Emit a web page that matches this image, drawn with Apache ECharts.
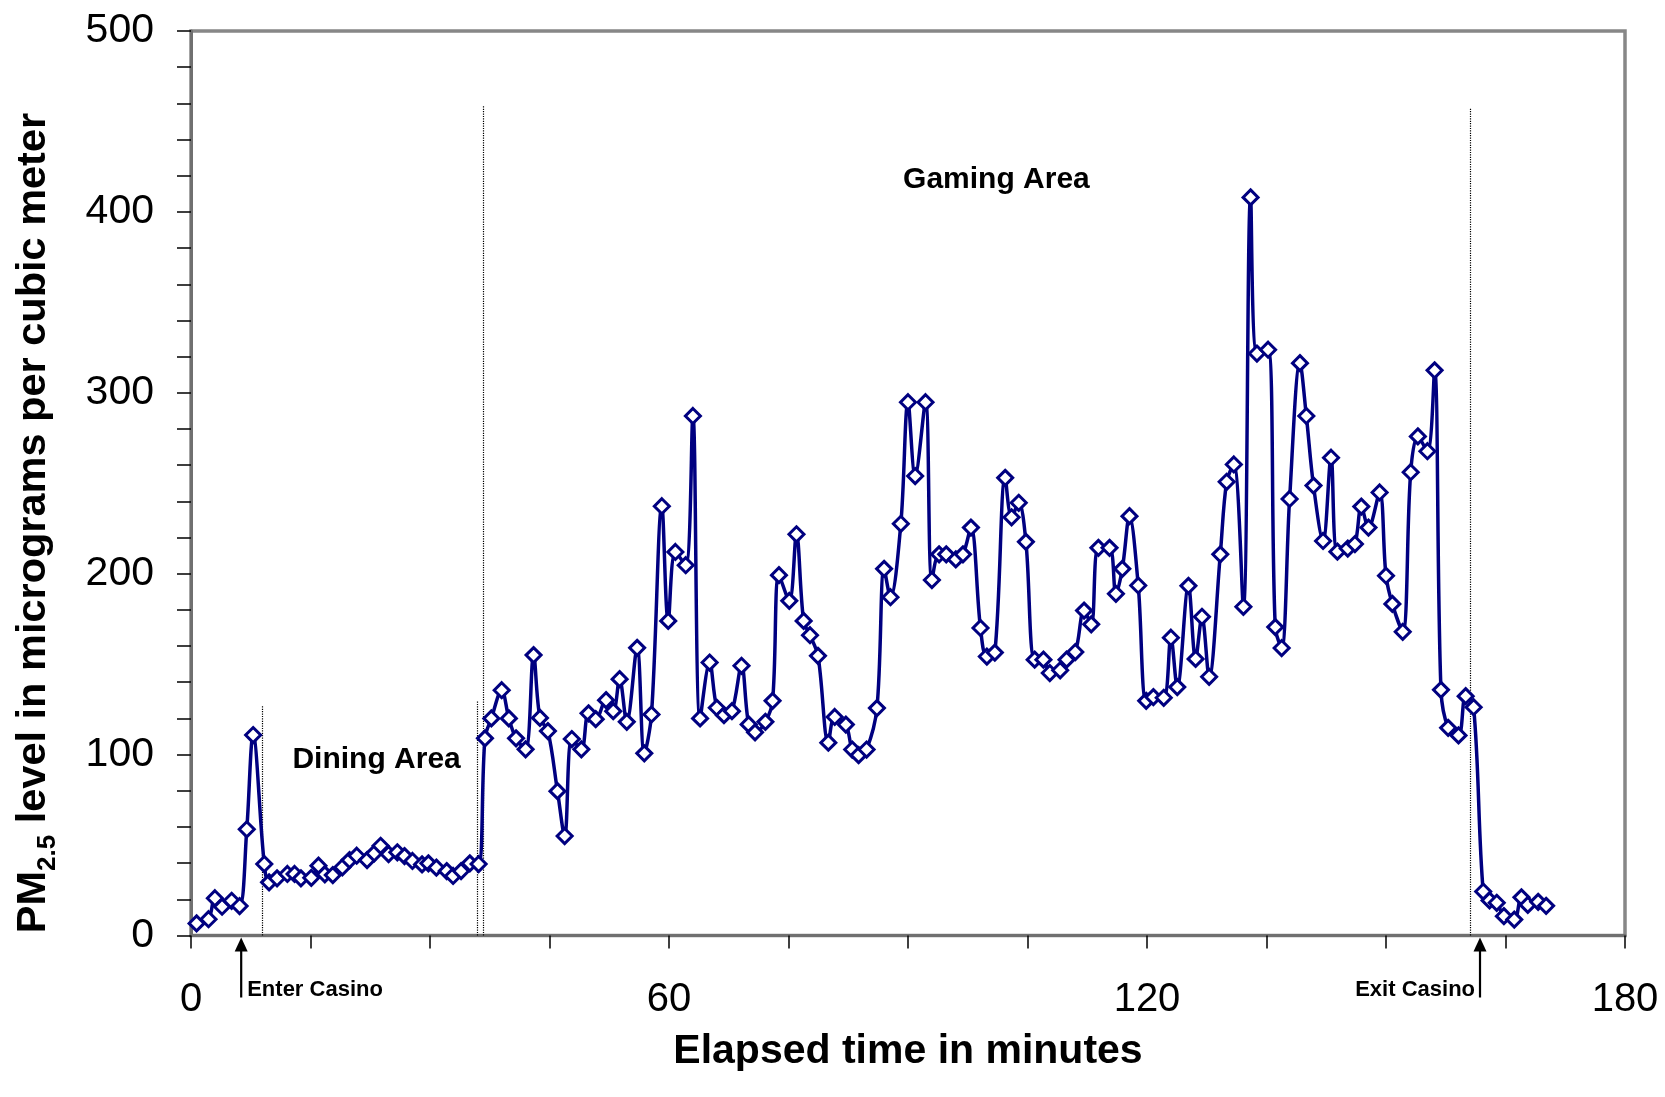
<!DOCTYPE html>
<html>
<head>
<meta charset="utf-8">
<script src="https://cdn.jsdelivr.net/npm/echarts@6/dist/echarts.min.js"></script>
<style>
  html, body { margin: 0; padding: 0; background: #fff; }
  #chart { width: 1665px; height: 1097px; }
</style>
</head>
<body>
<div id="chart"></div>
<script>
// elapsed time (minutes) and PM2.5 (ug/m3)
var times = [
  0.7, 2.2, 3.0, 3.9, 5.1, 6.1, 7.0, 7.8, 9.2, 9.8, 10.8, 12.1, 13.0, 13.8, 15.1, 16.0, 16.8, 17.8, 19.0, 19.9,
  20.8, 22.1, 23.0, 23.8, 24.8, 25.9, 26.8, 27.8, 29.0, 29.8, 30.8, 32.1, 32.9, 33.9, 35.0, 36.1,
  36.9, 37.7, 39.0, 39.9, 40.8, 42.0, 43.0, 43.8, 44.8, 46.0, 46.9, 47.8, 49.0, 49.9, 50.8, 52.1, 53.0, 53.8,
  54.7, 56.0, 56.9, 57.8, 59.1, 59.9, 60.8, 62.1, 63.0, 63.9, 65.1, 66.0, 66.9, 67.9, 69.1, 70.0, 70.8, 72.1,
  73.0, 73.8, 75.1, 76.0, 76.9, 77.7, 78.7,
  80.0, 80.8, 82.2, 83.0, 83.8, 84.8, 86.1, 87.0, 87.8, 89.1, 90.0, 90.9, 92.2, 93.0, 93.9, 94.8, 96.0, 96.9,
  97.9, 99.1, 99.9, 100.9, 102.2, 103.0, 103.9, 104.8, 105.9, 107.0, 107.8, 109.1, 109.9, 111.0, 112.1, 113.0,
  113.9, 115.3, 116.1, 116.9, 117.8, 118.9,
  119.9, 120.8, 122.1, 123.0, 123.8, 125.2, 126.1, 126.9, 127.8, 129.2, 130.0, 130.9, 132.1, 133.0, 133.8,
  135.2, 136.1, 136.9, 137.9, 139.2, 140.0, 140.9, 142.1, 143.1, 143.9, 145.2, 146.1, 146.9, 147.8, 149.2,
  150.0, 150.8, 152.1, 153.1, 154.0,
  155.2, 156.1, 156.9, 157.8, 159.1, 160.0, 161.0, 162.2, 163.0, 163.9, 164.8, 166.1, 167.0, 167.8, 169.1, 170.1
];
var pm25 = [
  6.7, 9.0, 20.6, 15.9, 19.2, 16.3, 58.7, 110.8, 39.5, 29.4, 31.6, 34, 34, 31.6, 31.9, 38.6, 33.8, 33.4, 37.7, 41.7,
  44.1, 41.7, 45.4, 49.6, 45, 46, 43.9, 41.2, 39.3, 39.9, 37.5, 35.6, 32.9, 35.6, 39.9, 39.5,
  109, 120, 135.6, 120, 109, 102.9, 155, 120.3, 113, 79.8, 55, 108.6, 102.9, 122.8, 119.6, 130.1, 124, 141.7,
  118.1, 159, 100.7, 122.2, 237.3, 173.9, 212, 204.7, 287.2, 120, 150.9, 125.9, 121.8, 124, 149.1, 116.7, 112.3, 118.1,
  129.7, 199.2, 185, 221.8, 173.9, 166, 154.6,
  106.6, 120.8, 116.6, 102.8, 99.7, 102.8, 125.7, 202.7, 187, 227.6, 294.8, 254, 294.8, 196.5, 210.7, 210.7, 207.9, 210.7,
  225.5, 170, 154.2, 156.4, 253, 231.2, 239.2, 217.6, 152.5, 152.5, 145.1, 146.6, 152.5, 156.7, 179.6, 172,
  214.3, 214.3, 188.9, 202.7, 231.8, 193.5,
  129.7, 131.8, 131.4, 164.6, 137.3, 193.3, 152.9, 176.2, 143, 210.7, 250.8, 260.4, 181.7, 408, 321.7,
  323.8, 170.5, 158.9, 241.3, 316.4, 287.2, 248.7, 218.1, 264.1, 212.2, 213.9, 216.4, 237.1, 225.5, 244.9,
  198.9, 183.3, 167.9, 256.1, 275.9,
  267.7, 312.4, 135.8, 114.8, 110.6, 132.3, 126.2, 24.3, 19.4, 18.1, 10.7, 8.8, 21.1, 16.9, 18.6, 16.4
];

// dotted separators: time and how high they reach
var dividerTimes = [8.95, 35.9, 36.7, 160.6];
var dividerTops = [127, 130, 459, 457];

// area labels
var areaNames = ['Dining Area', 'Gaming Area'];
var areaTimes = [23.3, 101.1];
var areaLevels = [97, 418];

// enter / exit arrows
var eventNames = ['Enter Casino', 'Exit Casino'];
var eventTimes = [6.3, 161.8];

var FONT = '"Liberation Sans", Arial, sans-serif';
var navy = '#000080';

var seriesData = times.map(function (t, i) { return [t, pm25[i]]; });

var dividerLines = dividerTimes.map(function (t, i) {
    return [{ coord: [t, 0] }, { coord: [t, dividerTops[i]] }];
});

var chart = echarts.init(document.getElementById('chart'));

var option = {
    animation: false,
    backgroundColor: '#fff',
    grid: {
        left: 191, top: 31, width: 1434, height: 904.5,
        show: true, borderColor: '#878787', borderWidth: 3.5, backgroundColor: 'transparent'
    },
    xAxis: {
        type: 'value', min: 0, max: 180, interval: 15,
        name: 'Elapsed time in minutes',
        nameLocation: 'middle', nameGap: 96,
        nameTextStyle: { fontFamily: FONT, fontSize: 41, fontWeight: 'bold', color: '#000' },
        axisLine: { show: true, onZero: false, lineStyle: { color: '#707070', width: 3 } },
        axisTick: { show: true, inside: false, length: 13, lineStyle: { color: '#000', width: 1.5 } },
        axisLabel: {
            margin: 44, fontFamily: FONT, fontSize: 40, color: '#000',
            showMinLabel: true, showMaxLabel: true,
            formatter: function (v) { return v % 60 === 0 ? String(v) : ''; }
        },
        splitLine: { show: false }
    },
    yAxis: {
        type: 'value', min: 0, max: 500, interval: 20,
        axisLine: { show: true, onZero: false, lineStyle: { color: '#707070', width: 3 } },
        axisTick: { show: true, inside: false, length: 14, lineStyle: { color: '#000', width: 1.5 } },
        axisLabel: {
            margin: 37, fontFamily: FONT, fontSize: 41, color: '#000',
            showMinLabel: true, showMaxLabel: true,
            formatter: function (v) { return v % 100 === 0 ? String(v) : ''; }
        },
        splitLine: { show: false }
    },
    series: [{
        type: 'line',
        data: seriesData,
        smooth: 0.35,
        showSymbol: true,
        showAllSymbol: true,
        symbol: 'diamond',
        symbolSize: [15, 15],
        lineStyle: { color: navy, width: 3.5 },
        itemStyle: { color: '#fff', borderColor: navy, borderWidth: 3 },
        z: 3,
        markLine: {
            silent: true,
            symbol: ['none', 'none'],
            label: { show: false },
            lineStyle: { color: '#000', type: 'dotted', width: 1.2 },
            data: dividerLines,
            z: 1
        }
    }]
};

chart.setOption(option);

// annotations placed through the chart's own scales
var graphics = [];
var axisY = chart.convertToPixel({ yAxisIndex: 0 }, 0);

areaNames.forEach(function (name, i) {
    var p = chart.convertToPixel({ gridIndex: 0 }, [areaTimes[i], areaLevels[i]]);
    graphics.push({
        type: 'text', x: p[0], y: p[1], z: 10,
        style: { text: name, font: 'bold 30px ' + FONT, fill: '#000', align: 'center', verticalAlign: 'middle' }
    });
});

eventTimes.forEach(function (t, i) {
    var px = chart.convertToPixel({ xAxisIndex: 0 }, t);
    graphics.push({
        type: 'line', z: 10,
        shape: { x1: px, y1: axisY + 12, x2: px, y2: axisY + 62 },
        style: { stroke: '#000', lineWidth: 2.2 }
    });
    graphics.push({
        type: 'polygon', z: 10,
        shape: { points: [[px, axisY + 2], [px - 6.5, axisY + 16], [px + 6.5, axisY + 16]] },
        style: { fill: '#000' }
    });
    graphics.push({
        type: 'text', z: 10,
        x: i === 0 ? px + 6 : px - 5, y: axisY + 54,
        style: {
            text: eventNames[i], font: 'bold 22px ' + FONT, fill: '#000',
            align: i === 0 ? 'left' : 'right', verticalAlign: 'middle'
        }
    });
});

// y axis title with subscript
graphics.push({
    type: 'text', z: 10,
    x: 32, y: 523, rotation: Math.PI / 2,
    style: {
        text: '{a|PM}{s|2.5}{a| level in micrograms per cubic meter}',
        align: 'center', verticalAlign: 'middle',
        rich: {
            a: { fontFamily: FONT, fontSize: 41.5, fontWeight: 'bold', fill: '#000', lineHeight: 46, verticalAlign: 'bottom' },
            s: { fontFamily: FONT, fontSize: 26, fontWeight: 'bold', fill: '#000', lineHeight: 46, verticalAlign: 'bottom', padding: [0, 0, -6, 0] }
        }
    }
});

chart.setOption({ graphic: graphics });
</script>
</body>
</html>
